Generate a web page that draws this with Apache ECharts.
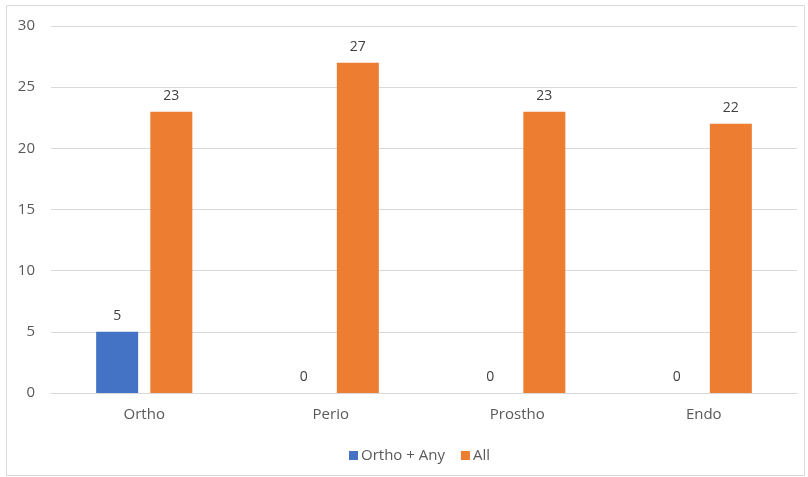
<!DOCTYPE html>
<html><head><meta charset="utf-8">
<script src="https://cdn.jsdelivr.net/npm/echarts@6/dist/echarts.min.js"></script>
<style>html,body{margin:0;padding:0;background:#fff}#c{width:808px;height:477px}</style>
</head><body><div id="c"></div>
<script>
const categories = ['Ortho', 'Perio', 'Prostho', 'Endo'];
const seriesNames = ['Ortho + Any', 'All'];
const orthoAny = [5, 0, 0, 0];
const allValues = [23, 27, 23, 22];
const yTicks = [0, 5, 10, 15, 20, 25, 30];

const chart = echarts.init(document.getElementById('c'));
const font = '"Open Sans", "Noto Sans", sans-serif';
const lbl = {show: true, position: 'top', distance: 9, color: '#404040', fontSize: 14, fontFamily: font};
chart.setOption({
  animation: false,
  backgroundColor: '#fff',
  graphic: [{type: 'rect', shape: {x: 6.5, y: 5.5, width: 798, height: 470}, style: {fill: 'none', stroke: '#d9d9d9', lineWidth: 1}, silent: true}],
  grid: {left: 51, right: 11, top: 26, bottom: 84, containLabel: false},
  legend: {
    top: 443, left: 344, itemWidth: 9, itemHeight: 9, itemGap: 16,
    icon: 'rect',
    textStyle: {color: '#595959', fontSize: 15, fontFamily: font, padding: [0, 0, 0, -2]},
    data: seriesNames
  },
  xAxis: {
    type: 'category', data: categories,
    axisLine: {lineStyle: {color: '#d9d9d9'}},
    axisTick: {show: false},
    axisLabel: {color: '#595959', fontSize: 15, fontFamily: font, margin: 14}
  },
  yAxis: {
    type: 'value', min: yTicks[0], max: yTicks[yTicks.length - 1], interval: 5,
    axisLine: {show: false}, axisTick: {show: false},
    splitLine: {lineStyle: {color: '#d9d9d9'}},
    axisLabel: {color: '#595959', fontSize: 15, fontFamily: font, margin: 16}
  },
  series: [
    {name: seriesNames[0], type: 'bar', data: orthoAny, barWidth: 42, barGap: '29%',
     itemStyle: {color: '#4472c4'}, label: lbl},
    {name: seriesNames[1], type: 'bar', data: allValues, barWidth: 42,
     itemStyle: {color: '#ed7d31'}, label: lbl}
  ]
});
</script></body></html>
